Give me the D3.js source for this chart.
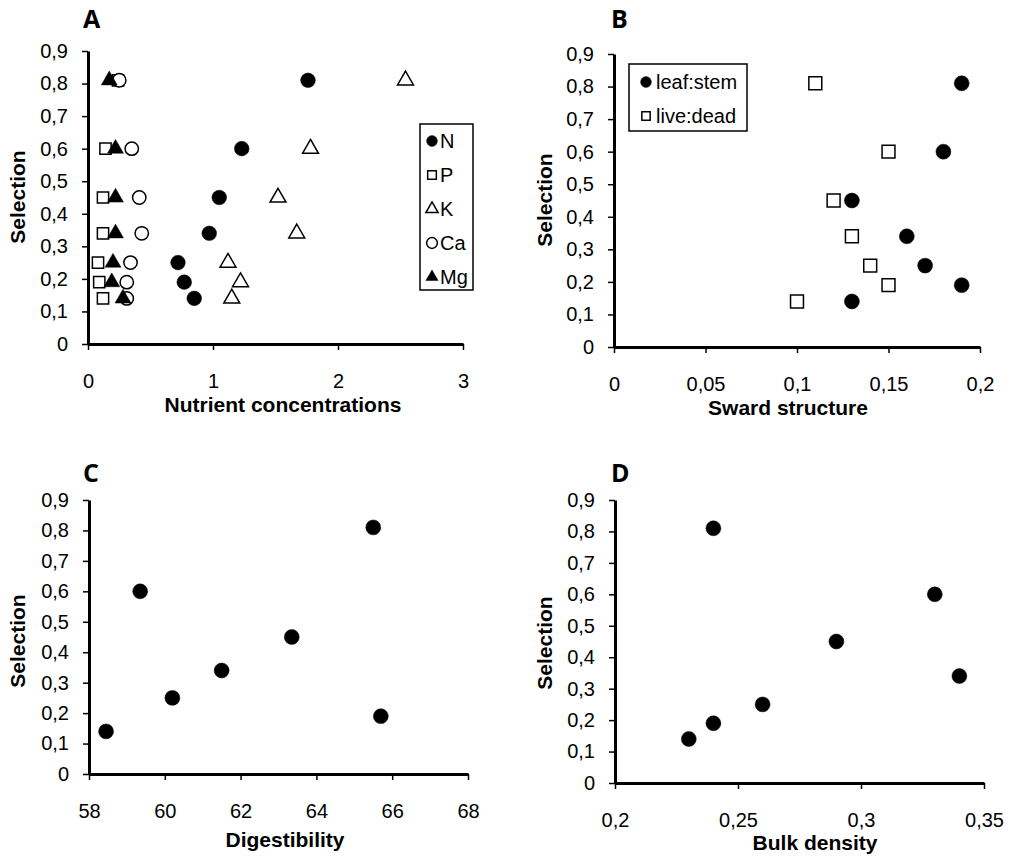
<!DOCTYPE html>
<html><head><meta charset="utf-8">
<script src="https://cdn.jsdelivr.net/npm/d3@7"></script>
<style>
body{margin:0;background:#fff;}
svg{display:block;font-family:"Liberation Sans",Arial,sans-serif;}
</style></head>
<body>
<svg id="chart" width="1015" height="858"></svg>
<script>
// ---- data ----
const selection = [0.81, 0.60, 0.45, 0.34, 0.25, 0.19, 0.14];
// Panel A: nutrient concentrations
const nValues  = [1.76, 1.23, 1.05, 0.97, 0.72, 0.77, 0.85];
const pValues  = [0.24, 0.14, 0.12, 0.12, 0.08, 0.09, 0.12];
const kValues  = [2.54, 1.78, 1.52, 1.67, 1.12, 1.22, 1.15];
const caValues = [0.25, 0.35, 0.41, 0.43, 0.34, 0.31, 0.31];
const mgValues = [0.17, 0.22, 0.22, 0.22, 0.20, 0.19, 0.28];
const nutrientNames = ["N", "P", "K", "Ca", "Mg"];
// Panel B: sward structure
const leafStem = [0.19, 0.18, 0.13, 0.16, 0.17, 0.19, 0.13];
const liveDead = [0.11, 0.15, 0.12, 0.13, 0.14, 0.15, 0.10];
const swardNames = ["leaf:stem", "live:dead"];
// Panel C: digestibility
const digestibility = [65.5, 59.35, 63.35, 61.5, 60.2, 65.7, 58.45];
// Panel D: bulk density
const bulkDensity = [0.24, 0.33, 0.29, 0.34, 0.26, 0.24, 0.23];
// ticks
const yTicks = [0, 0.1, 0.2, 0.3, 0.4, 0.5, 0.6, 0.7, 0.8, 0.9];
const xTicksA = [0, 1, 2, 3];
const xTicksB = [0, 0.05, 0.1, 0.15, 0.2];
const xTicksC = [58, 60, 62, 64, 66, 68];
const xTicksD = [0.2, 0.25, 0.3, 0.35];

const svg = d3.select("#chart");
const fmt = v => String(+v.toFixed(3)).replace(".", ",");

const sym = {
  circle:   {type: d3.symbolCircle,   size: 140},
  square:   {type: d3.symbolSquare,   size: 115},
  triangle: {type: d3.symbolTriangle, size: 100}
};
function marker(g, shape, filled, x, y, scale) {
  const s = sym[shape];
  g.append("path")
    .attr("d", d3.symbol().type(s.type).size(s.size * (scale || 1))())
    .attr("transform", `translate(${x},${y})`)
    .attr("fill", filled ? "#000" : "#fff")
    .attr("stroke", "#000")
    .attr("stroke-width", filled ? 0.5 : 1.5);
}

function panel(cfg) {
  const g = svg.append("g");
  const x = d3.scaleLinear().domain(cfg.xDomain).range(cfg.xRange);
  const y = d3.scaleLinear().domain([0, 0.9]).range(cfg.yRange);
  const ya = g.append("g").attr("transform", `translate(${cfg.xRange[0]},0)`)
    .call(d3.axisLeft(y).tickValues(yTicks).tickFormat(fmt).tickSize(6).tickSizeOuter(0).tickPadding(14));
  const xa = g.append("g").attr("transform", `translate(0,${cfg.yRange[0]})`)
    .call(d3.axisBottom(x).tickValues(cfg.xTicks).tickFormat(fmt).tickSize(6).tickSizeOuter(0).tickPadding(24));
  [ya, xa].forEach(a => {
    a.select(".domain").attr("stroke", "#000").attr("stroke-width", 3);
    a.selectAll(".tick line").attr("stroke", "#000").attr("stroke-width", 1.5);
    a.selectAll(".tick text").attr("fill", "#000").style("font-size", "20px")
      .style("font-family", '"Liberation Sans",Arial,sans-serif');
  });
  g.append("text").attr("x", cfg.letter[0]).attr("y", cfg.letter[1])
    .style("font-family", '"Open Sans",sans-serif').style("font-weight", "bold")
    .style("font-size", "25px").text(cfg.letterText);
  g.append("text").attr("x", cfg.xTitle[0]).attr("y", cfg.xTitle[1])
    .attr("text-anchor", "middle").style("font-weight", "bold").style("font-size", "21px")
    .text(cfg.xTitleText);
  g.append("text").attr("transform", `translate(${cfg.yTitle[0]},${cfg.yTitle[1]}) rotate(-90)`)
    .attr("text-anchor", "middle").style("font-weight", "bold").style("font-size", "21px")
    .text("Selection");
  return {g, x, y};
}

// Panel A
{
  const {g, x, y} = panel({xDomain: [0, 3], xRange: [88, 463], yRange: [344, 51], xTicks: xTicksA,
    letter: [83, 28], letterText: "A", xTitle: [283, 412], xTitleText: "Nutrient concentrations", yTitle: [25, 197]});
  const series = [
    {vals: nValues,  shape: "circle",   filled: true,  scale: 1.2},
    {vals: pValues,  shape: "square",   filled: false, scale: 1.1},
    {vals: kValues,  shape: "triangle", filled: false, scale: 1.1},
    {vals: caValues, shape: "circle",   filled: false, scale: 1},
    {vals: mgValues, shape: "triangle", filled: true,  scale: 1.1}
  ];
  series.forEach(s => s.vals.forEach((v, i) => marker(g, s.shape, s.filled, x(v), y(selection[i]), s.scale)));
  const lg = g.append("g");
  lg.append("rect").attr("x", 420).attr("y", 124).attr("width", 53).attr("height", 166)
    .attr("fill", "#fff").attr("stroke", "#000").attr("stroke-width", 1.5);
  const ly = d3.scalePoint().domain(nutrientNames).range([141, 277]);
  series.forEach((s, i) => {
    marker(lg, s.shape, s.filled, 432, ly(nutrientNames[i]), 0.65);
    lg.append("text").attr("x", 440).attr("y", ly(nutrientNames[i])).attr("dy", "0.36em")
      .style("font-size", "20px").text(nutrientNames[i]);
  });
}

// Panel B
{
  const {g, x, y} = panel({xDomain: [0, 0.2], xRange: [614, 980], yRange: [347, 54], xTicks: xTicksB,
    letter: [611, 28], letterText: "B", xTitle: [788, 415], xTitleText: "Sward structure", yTitle: [552, 200]});
  leafStem.forEach((v, i) => marker(g, "circle", true, x(v), y(selection[i]), 1.25));
  liveDead.forEach((v, i) => marker(g, "square", false, x(v), y(selection[i]), 1.45));
  const lg = g.append("g");
  lg.append("rect").attr("x", 629).attr("y", 64).attr("width", 118).attr("height", 67)
    .attr("fill", "#fff").attr("stroke", "#000").attr("stroke-width", 1.5);
  const ly = d3.scalePoint().domain(swardNames).range([82, 116]);
  marker(lg, "circle", true, 646, ly(swardNames[0]), 0.65);
  marker(lg, "square", false, 646, ly(swardNames[1]), 0.6);
  swardNames.forEach(n => lg.append("text").attr("x", 656).attr("y", ly(n)).attr("dy", "0.36em")
    .style("font-size", "20px").text(n));
}

// Panel C
{
  const {g, x, y} = panel({xDomain: [58, 68], xRange: [89, 468], yRange: [774, 500], xTicks: xTicksC,
    letter: [83, 482], letterText: "C", xTitle: [285, 847], xTitleText: "Digestibility", yTitle: [25, 641]});
  digestibility.forEach((v, i) => marker(g, "circle", true, x(v), y(selection[i]), 1.25));
}

// Panel D
{
  const {g, x, y} = panel({xDomain: [0.2, 0.35], xRange: [615, 984], yRange: [783, 500], xTicks: xTicksD,
    letter: [611, 482], letterText: "D", xTitle: [815, 850], xTitleText: "Bulk density", yTitle: [552, 643]});
  bulkDensity.forEach((v, i) => marker(g, "circle", true, x(v), y(selection[i]), 1.25));
}
</script>
</body></html>
